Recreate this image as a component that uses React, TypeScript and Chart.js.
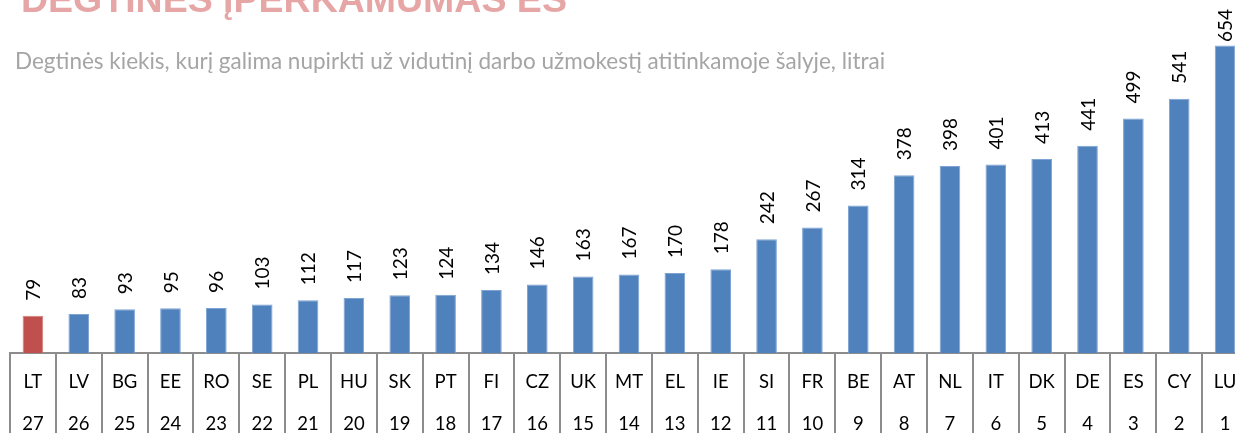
import React, { useEffect, useRef } from "react";
import { Chart, registerables } from "chart.js";

Chart.register(...registerables);

const countries = ["LT", "LV", "BG", "EE", "RO", "SE", "PL", "HU", "SK", "PT", "FI", "CZ", "UK", "MT", "EL", "IE", "SI", "FR", "BE", "AT", "NL", "IT", "DK", "DE", "ES", "CY", "LU"];
const ranks = ["27", "26", "25", "24", "23", "22", "21", "20", "19", "18", "17", "16", "15", "14", "13", "12", "11", "10", "9", "8", "7", "6", "5", "4", "3", "2", "1"];
const litres = [79, 83, 93, 95, 96, 103, 112, 117, 123, 124, 134, 146, 163, 167, 170, 178, 242, 267, 314, 378, 398, 401, 413, 441, 499, 541, 654];
const highlighted = "LT";
const titleText = "DEGTINĖS ĮPERKAMUMAS ES";
const subtitleText = "Degtinės kiekis, kurį galima nupirkti už vidutinį darbo užmokestį atitinkamoje šalyje, litrai";

const BLUE = "#4f81bd";
const RED = "#c0504d";

const headerPlugin = {
  id: "header",
  beforeDraw(chart: any) {
    const ctx = chart.ctx;
    ctx.save();
    ctx.textAlign = "left";
    ctx.textBaseline = "alphabetic";
    ctx.fillStyle = "#e7a6a6";
    ctx.font = 'bold 37.5px "Liberation Sans", Arial, sans-serif';
    ctx.fillText(titleText, 21, 12);
    ctx.fillStyle = "#a5a5a5";
    ctx.font = '22.5px Lato, "Open Sans", sans-serif';
    ctx.fillText(subtitleText, 15, 69);
    ctx.restore();
  },
};

const valueLabelPlugin = {
  id: "valueLabels",
  afterDatasetsDraw(chart: any) {
    const ctx = chart.ctx;
    const meta = chart.getDatasetMeta(0);
    ctx.save();
    ctx.fillStyle = "#000000";
    ctx.font = '19px Lato, "Open Sans", sans-serif';
    ctx.textAlign = "left";
    ctx.textBaseline = "middle";
    meta.data.forEach((bar: any, i: number) => {
      const text = String(litres[i]);
      const w = ctx.measureText(text).width;
      const start = Math.max(bar.y - 15, 9 + w);
      ctx.save();
      ctx.translate(bar.x + 1, start);
      ctx.rotate(-Math.PI / 2);
      ctx.fillText(text, 0, 0);
      ctx.restore();
    });
    ctx.restore();
  },
};

export default function App() {
  const canvasRef = useRef<HTMLCanvasElement | null>(null);

  useEffect(() => {
    if (!canvasRef.current) return;
    const chart = new Chart(canvasRef.current, {
      type: "bar",
      data: {
        labels: countries.map((c, i) => [c, ranks[i]]),
        datasets: [
          {
            data: litres,
            backgroundColor: countries.map((c) => (c === highlighted ? RED : BLUE)),
            borderColor: countries.map((c) => (c === highlighted ? "#d27d7b" : "#7ea3d3")),
            borderWidth: 1,
            barPercentage: 0.45,
            categoryPercentage: 1,
          },
        ],
      },
      options: {
        animation: false,
        responsive: false,
        devicePixelRatio: 1,
        layout: { padding: { left: 10, right: 2, top: 24, bottom: 0 } },
        plugins: {
          legend: { display: false },
          title: { display: false },
          tooltip: { enabled: false },
        },
        scales: {
          y: {
            display: false,
            min: 0,
            max: 700,
          },
          x: {
            grid: {
              offset: true,
              drawOnChartArea: false,
              drawTicks: true,
              tickLength: 80,
              color: "#8c8c8c",
              lineWidth: 2,
            },
            border: { display: true, color: "#8c8c8c", width: 2 },
            ticks: {
              autoSkip: false,
              maxRotation: 0,
              minRotation: 0,
              padding: -72,
              color: "#000000",
              font: { family: 'Lato, "Open Sans", sans-serif', size: 18.5, lineHeight: "42px" },
            },
            afterFit: (scale: any) => {
              scale.height = 80;
            },
          },
        },
      },
      plugins: [headerPlugin, valueLabelPlugin],
    });
    return () => chart.destroy();
  }, []);

  return (
    <div
      style={{
        position: "fixed",
        left: 0,
        top: 0,
        width: 1235,
        height: 433,
        overflow: "hidden",
        background: "#ffffff",
      }}
    >
      <canvas ref={canvasRef} width={1250} height={433} style={{ width: 1250, height: 433, display: "block" }} />
    </div>
  );
}
